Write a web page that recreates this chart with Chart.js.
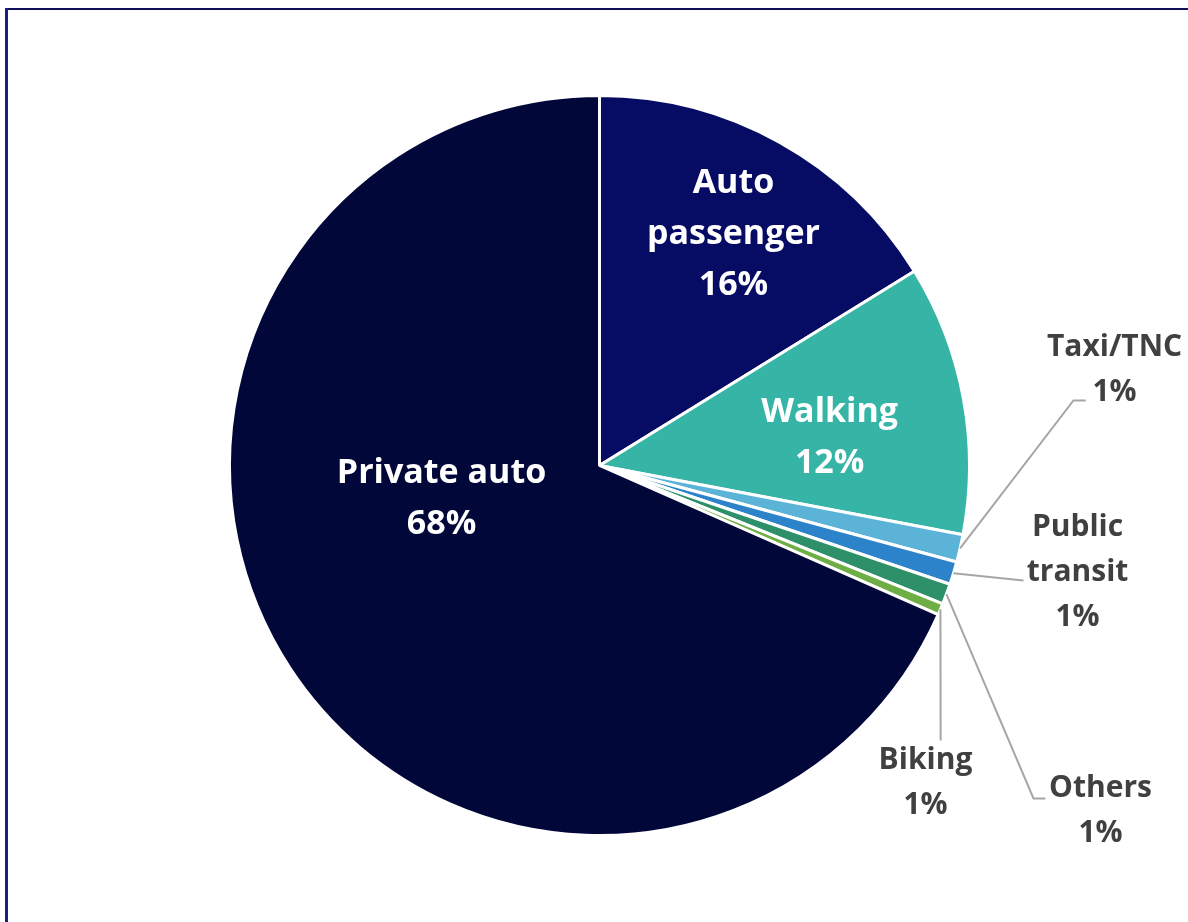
<!DOCTYPE html>
<html>
<head>
<meta charset="utf-8">
<script src="https://cdn.jsdelivr.net/npm/chart.js@4.4.1/dist/chart.umd.min.js"></script>
<style>
  html, body { margin: 0; padding: 0; background: #ffffff; }
  #wrap { position: relative; width: 1188px; height: 922px; overflow: hidden; }
  #frameTop { position: absolute; left: 5px; top: 8px; width: 1200px; height: 0; border-top: 2px solid #10105a; }
  #frameLeft { position: absolute; left: 5px; top: 8px; width: 0; height: 1000px; border-left: 3px solid #1c1c88; }
  canvas { position: absolute; left: 0; top: 0; }
</style>
</head>
<body>
<div id="wrap">
  <canvas id="c" width="1188" height="922"></canvas>
  <div id="frameTop"></div>
  <div id="frameLeft"></div>
</div>
<script>
// ---- data ----
const categories = ['Auto passenger', 'Walking', 'Taxi/TNC', 'Public transit', 'Others', 'Biking', 'Private auto'];
const shares = [16.2, 11.8, 1.2, 1.0, 0.9, 0.5, 68.4];
const pctLabels = ['16%', '12%', '1%', '1%', '1%', '1%', '68%'];
const labelLines = [['Auto', 'passenger'], ['Walking'], ['Taxi/TNC'], ['Public', 'transit'], ['Others'], ['Biking'], ['Private auto']];
const sliceColors = ['#060b63', '#36b5a7', '#5bb4d8', '#2d83c9', '#2e9068', '#6fae44', '#02073a'];

// label layout (in units of pie radius, relative to the pie centre)
const labelLayout = [
  { inside: true, fx: 0.362, fy: -0.624, lh: 51 },
  { inside: true, fx: 0.622, fy: -0.076, lh: 51 },
  { inside: false, fx: 1.392, fy: -0.258, lh: 45, path: [[1.281, -0.176], [1.314, -0.176]] },
  { inside: false, fx: 1.292, fy: 0.289, lh: 45, path: [[1.146, 0.311]] },
  { inside: false, fx: 1.354, fy: 0.934, lh: 45, path: [[1.173, 0.900], [1.205, 0.900]] },
  { inside: false, fx: 0.881, fy: 0.858, lh: 45, path: [[0.922, 0.743]] },
  { inside: true, fx: -0.427, fy: 0.089, lh: 51 }
];

const labelPlugin = {
  id: 'sliceLabels',
  afterDatasetsDraw(chart) {
    const ctx = chart.ctx;
    const meta = chart.getDatasetMeta(0);
    meta.data.forEach((arc, i) => {
      const p = arc.getProps(['x', 'y', 'startAngle', 'endAngle', 'outerRadius'], true);
      const r = p.outerRadius;
      const lay = labelLayout[i];
      const lines = labelLines[i].concat([pctLabels[i]]);
      const cx = p.x + lay.fx * r;
      const cy = p.y + lay.fy * r;
      ctx.save();
      if (!lay.inside) {
        const mid = (p.startAngle + p.endAngle) / 2;
        ctx.strokeStyle = '#a6a6a6';
        ctx.lineWidth = 2;
        ctx.beginPath();
        ctx.moveTo(p.x + Math.cos(mid) * r, p.y + Math.sin(mid) * r);
        lay.path.forEach(pt => ctx.lineTo(p.x + pt[0] * r, p.y + pt[1] * r));
        ctx.stroke();
      }
      ctx.fillStyle = lay.inside ? '#ffffff' : '#404040';
      ctx.font = lay.inside ? 'bold 34px "Open Sans"' : 'bold 30px "Open Sans"';
      ctx.textAlign = 'center';
      ctx.textBaseline = 'middle';
      const n = lines.length;
      lines.forEach((t, k) => {
        ctx.fillText(t, cx, cy + (k - (n - 1) / 2) * lay.lh);
      });
      ctx.restore();
    });
  }
};

new Chart(document.getElementById('c'), {
  type: 'pie',
  data: {
    labels: categories,
    datasets: [{
      data: shares,
      backgroundColor: sliceColors,
      borderColor: '#ffffff',
      borderWidth: 3
    }]
  },
  options: {
    responsive: false,
    animation: false,
    layout: { padding: { left: 228, top: 94, right: 217, bottom: 85 } },
    plugins: { legend: { display: false }, tooltip: { enabled: false } }
  },
  plugins: [labelPlugin]
});
</script>
</body>
</html>
